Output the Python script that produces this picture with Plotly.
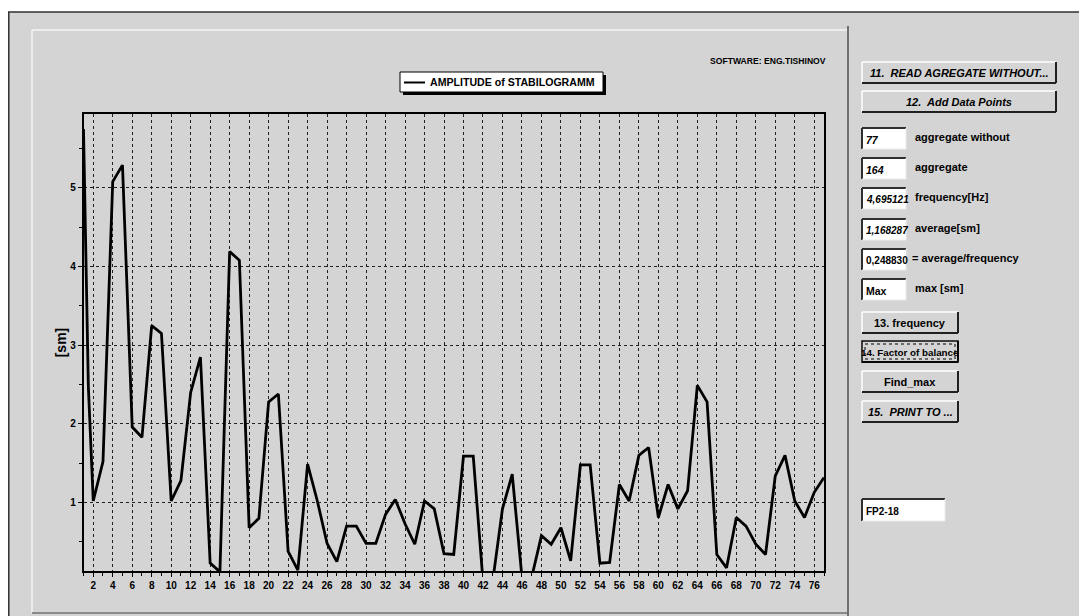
import plotly.graph_objects as go

W, H = 1087, 616
OFF = 8  # the page body margin shifts the figure by 8px right and down

# ---- data ----
seconds = [1, 1.5] + list(range(2, 78))
amplitude_sm = [5.75, 2.47, 1.02, 1.52, 5.08, 5.29, 1.96, 1.83, 3.25, 3.15, 1.02,
                1.28, 2.40, 2.85, 0.23, 0.12, 4.19, 4.08, 0.68, 0.80, 2.28,
                2.38, 0.38, 0.14, 1.49, 1.02, 0.48, 0.25, 0.70, 0.70, 0.48,
                0.48, 0.85, 1.04, 0.73, 0.47, 1.02, 0.92, 0.35, 0.34, 1.59,
                1.59, 0.00, 0.00, 0.92, 1.36, 0.05, 0.05, 0.58, 0.47, 0.68,
                0.26, 1.48, 1.48, 0.23, 0.24, 1.23, 1.02, 1.60, 1.70, 0.81,
                1.23, 0.92, 1.15, 2.49, 2.28, 0.34, 0.17, 0.81, 0.70, 0.47,
                0.34, 1.34, 1.60, 1.02, 0.81, 1.13, 1.32]
x_tick_vals = list(range(2, 77, 2))
x_tick_text = [str(v) for v in x_tick_vals]
y_tick_vals = [1, 2, 3, 4, 5]

series_name = "AMPLITUDE of STABILOGRAMM"
credit_text = "SOFTWARE: ENG.TISHINOV"
big_buttons = ["<i>11.  READ AGREGATE WITHOUT...</i>", "<i>12.  Add Data Points</i>"]
field_values = ["<i>77</i>", "<i>164</i>", "<i>4,695121</i>", "<i>1,168287</i>", "0,248830", "Max"]
field_labels = ["aggregate without", "aggregate", "frequency[Hz]", "average[sm]",
                "= average/frequency", "max [sm]"]
small_buttons = ["13. frequency", "14. Factor of balance", "Find_max", "<i>15.  PRINT TO ...</i>"]
id_field = "FP2-18"

GRAY = "#d4d4d4"
FONT = "Liberation Sans Narrow, Arial Narrow, Liberation Sans, Arial, sans-serif"


def px(x):
    return (x - OFF) / W


def py(y):
    return 1 - (y - OFF) / H


shapes = []
annots = []


def line(x0, y0, x1, y1, color, width=1, dash=None):
    d = dict(type="line", xref="paper", yref="paper",
             x0=px(x0), y0=py(y0), x1=px(x1), y1=py(y1),
             line=dict(color=color, width=width))
    if dash:
        d["line"]["dash"] = dash
    shapes.append(d)


def rect(x0, y0, x1, y1, fill, lc=None, lw=0, dash=None):
    d = dict(type="rect", xref="paper", yref="paper",
             x0=px(x0), y0=py(y0), x1=px(x1), y1=py(y1),
             fillcolor=fill, line=dict(width=lw, color=lc or fill))
    if dash:
        d["line"]["dash"] = dash
    shapes.append(d)


def text(x, y, s, size=12, anchor="left", color="black"):
    annots.append(dict(xref="paper", yref="paper", x=px(x), y=py(y), text="<b>" + s + "</b>",
                       showarrow=False, xanchor=anchor, yanchor="middle",
                       font=dict(family=FONT, size=size, color=color)))


def button(x0, y0, x1, y1, label, size=11, default=False):
    rect(x0, y0, x1, y1, GRAY)
    line(x0, y0, x1, y0, "#ffffff", 1.5)
    line(x0, y0, x0, y1, "#ffffff", 1.5)
    line(x0, y1, x1, y1, "#202020", 2)
    line(x1, y0, x1, y1, "#202020", 2)
    if default:
        rect(x0, y0, x1, y1, "rgba(0,0,0,0)", "#000000", 1.5)
        rect(x0 + 3, y0 + 3, x1 - 3, y1 - 3, "rgba(0,0,0,0)", "#000000", 1, dash="dot")
    text((x0 + x1) / 2, (y0 + y1) / 2 + 0.5, label, size=size, anchor="center")


def field(x0, y0, x1, y1, value, size=10):
    rect(x0, y0, x1, y1, "#ffffff")
    line(x0, y0, x1, y0, "#303030", 2)
    line(x0, y0, x0, y1, "#303030", 2)
    line(x0, y1, x1, y1, "#ececec", 1)
    line(x1, y0, x1, y1, "#ececec", 1)
    text(x0 + 2, (y0 + y1) / 2 + 1, value, size=size)


# outer window edge (the page margin gives the white strip at the left and top)
rect(OFF, OFF, W + OFF, 12, "#ffffff")
line(OFF, 12, W + OFF, 12, "#303030", 1.5)
line(OFF + 0.8, 12, OFF + 0.8, H + OFF, "#303030", 1.5)

# chart panel bevel
line(32, 30, 847, 30, "#f4f4f4", 1.5)
line(32, 30, 32, 613, "#f4f4f4", 1.5)
line(848, 26, 848, H + OFF, "#505050", 1.5)
line(32, 613, 848, 613, "#707070", 1.5)

# legend box with drop shadow
rect(403, 75, 606, 95, "#000000")
rect(400, 72, 603, 92, "#ffffff", "#000000", 1)
line(404, 82.5, 425, 82.5, "#000000", 2)
text(428, 82.5, series_name, size=10.6)

text(708, 61, credit_text, size=8.6)

# right control panel
button(862, 62, 1056, 83, big_buttons[0], size=11)
button(862, 91, 1056, 112, big_buttons[1], size=11)
field_tops = [128, 158, 188, 219, 249, 279]
for top, val, lab in zip(field_tops, field_values, field_labels):
    field(862, top, 906, top + 21, val, size=10 if "," in val else 10.5)
    text(910 if lab.startswith("=") else 913, top + 9, lab, size=11)
sb_tops = [312, 341, 371, 401]
for top, lab in zip(sb_tops, small_buttons):
    is_def = lab.startswith("14.")
    button(862, top, 958, top + 21, lab, size=9.8 if is_def else 11, default=is_def)
field(862, 499, 945, 521, id_field, size=10)

fig = go.Figure()
fig.add_trace(go.Scatter(x=seconds, y=amplitude_sm, mode="lines", name=series_name,
                         line=dict(color="#000000", width=2.8), showlegend=False))

axis_font = dict(family=FONT, size=10, color="black", weight="bold")
fig.update_layout(
    width=W, height=H,
    margin=dict(l=0, r=0, t=0, b=0),
    paper_bgcolor=GRAY, plot_bgcolor=GRAY,
    showlegend=False,
    shapes=shapes, annotations=annots,
    xaxis=dict(domain=[px(83.5), px(824)], range=[1, 77], automargin=False,
               tickmode="array", tickvals=x_tick_vals, ticktext=x_tick_text,
               tickfont=axis_font, ticks="outside", ticklen=4, tickcolor="black",
               minor=dict(dtick=1, ticks="outside", ticklen=3, tickcolor="black", showgrid=False),
               showgrid=True, gridcolor="#202020", gridwidth=1, griddash="3px,3px",
               showline=True, mirror=True, linecolor="black", linewidth=1.5,
               zeroline=False, fixedrange=True),
    yaxis=dict(domain=[py(571), py(114)], range=[0.13, 5.94], automargin=False,
               tickmode="array", tickvals=y_tick_vals,
               tickfont=axis_font, ticks="outside", ticklen=4, tickcolor="black",
               minor=dict(dtick=0.5, ticks="outside", ticklen=3, tickcolor="black", showgrid=False),
               showgrid=True, gridcolor="#202020", gridwidth=1, griddash="3px,3px",
               showline=True, mirror=True, linecolor="black", linewidth=1.5,
               zeroline=False, fixedrange=True,
               title=dict(text="<b>[sm]</b>", standoff=0,
                          font=dict(family=FONT, size=14, color="black"))),
)

fig.write_html("out.html")
